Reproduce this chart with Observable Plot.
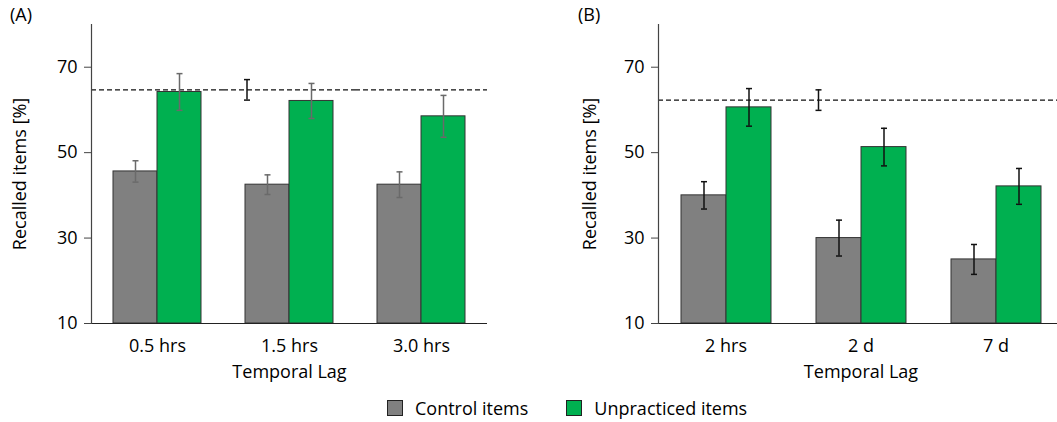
<!DOCTYPE html>
<html>
<head>
<meta charset="utf-8">
<script src="https://cdn.jsdelivr.net/npm/d3@7"></script>
<script src="https://cdn.jsdelivr.net/npm/@observablehq/plot@0.6"></script>
<style>
  body { margin: 0; background: #fff; font-family: "Open Sans", sans-serif; color: #000; }
  #wrap { width: 1057px; height: 422px; overflow: hidden; position: relative; }
  #panels { display: flex; }
  .panel { position: relative; flex: none; }
  .tag { position: absolute; top: 2px; font-size: 18px; }
  #legend { position: absolute; left: 387px; top: 396px; display: flex; align-items: center; font-size: 18px; }
  .item { display: flex; align-items: center; margin-right: 38px; }
  .sw { width: 16px; height: 16px; border: 1px solid #222; margin-right: 12px; box-sizing: border-box; }
</style>
</head>
<body>
<div id="wrap">
  <div id="panels"></div>
  <div id="legend"></div>
</div>
<script>
// Recall by temporal lag: control vs. unpracticed items, with a baseline reference
const seriesNames = ["Control items", "Unpracticed items"];
const seriesColors = ["#808080", "#00b050"];
const yTicks = [10, 30, 50, 70];
const yDomain = [10, 80];

// Panel A
const lagsA = ["0.5 hrs", "1.5 hrs", "3.0 hrs"];
const controlA = [45.6, 42.5, 42.5];
const controlErrA = [2.5, 2.3, 3.0];
const unpracticedA = [64.2, 62.1, 58.5];
const unpracticedErrA = [4.3, 4.1, 4.9];
const baselineA = 64.7;
const baselineErrA = 2.4;

// Panel B
const lagsB = ["2 hrs", "2 d", "7 d"];
const controlB = [40.0, 30.0, 25.0];
const controlErrB = [3.2, 4.2, 3.5];
const unpracticedB = [60.6, 51.3, 42.1];
const unpracticedErrB = [4.4, 4.4, 4.2];
const baselineB = 62.3;
const baselineErrB = 2.4;

// horizontal cap for error bars
const capSymbol = {
  draw(ctx, size) {
    const w = Math.sqrt(size / Math.PI);
    ctx.moveTo(-w, 0);
    ctx.lineTo(w, 0);
  }
};

function rows(lags, control, controlErr, unpracticed, unpracticedErr) {
  const out = [];
  lags.forEach((lag, i) => {
    out.push({lag, series: seriesNames[0], value: control[i], err: controlErr[i]});
    out.push({lag, series: seriesNames[1], value: unpracticed[i], err: unpracticedErr[i]});
  });
  return out;
}

function panel({tag, lags, data, baseline, baselineErr, width, marginLeft, marginRight, errColor, labelOffset, baseDx}) {
  const base = [{lag: lags[1], series: seriesNames[0], value: baseline, err: baselineErr}];
  const lo = d => d.value - d.err;
  const hi = d => d.value + d.err;
  const chart = Plot.plot({
    width,
    height: 395,
    marginTop: 24,
    marginBottom: 72,
    marginLeft,
    marginRight,
    style: {fontFamily: "Open Sans", fontSize: "18px", color: "#000", background: "transparent", overflow: "visible"},
    fx: {domain: lags, padding: 0},
    x: {domain: seriesNames, paddingInner: 0, paddingOuter: 0.5, axis: null},
    y: {domain: yDomain},
    color: {domain: seriesNames, range: seriesColors},
    marks: [
      Plot.barY(data, {fx: "lag", x: "series", y1: () => yDomain[0], y2: "value", fill: "series", stroke: "#333", strokeWidth: 1}),
      Plot.ruleY([baseline], {stroke: "#111", strokeWidth: 1.2, strokeDasharray: "5,3"}),
      Plot.ruleX(data, {fx: "lag", x: "series", y1: lo, y2: hi, stroke: errColor, strokeWidth: 1.5}),
      Plot.dot(data, {fx: "lag", x: "series", y: lo, symbol: capSymbol, r: 3, fill: "none", stroke: errColor, strokeWidth: 1.5}),
      Plot.dot(data, {fx: "lag", x: "series", y: hi, symbol: capSymbol, r: 3, fill: "none", stroke: errColor, strokeWidth: 1.5}),
      Plot.ruleX(base, {fx: "lag", x: "series", y1: lo, y2: hi, dx: baseDx, stroke: "#111", strokeWidth: 1.5}),
      Plot.dot(base, {fx: "lag", x: "series", y: lo, dx: baseDx, symbol: capSymbol, r: 3, fill: "none", stroke: "#111", strokeWidth: 1.5}),
      Plot.dot(base, {fx: "lag", x: "series", y: hi, dx: baseDx, symbol: capSymbol, r: 3, fill: "none", stroke: "#111", strokeWidth: 1.5}),
      Plot.ruleY([yDomain[0]], {stroke: "#222", strokeWidth: 1.2}),
      Plot.frame({anchor: "left", facetAnchor: "left", stroke: "#444", strokeWidth: 1.2}),
      Plot.axisY({ticks: yTicks, tickSize: 7, tickPadding: 7, stroke: "#444", fontSize: 18,
        label: "Recalled items [%]", labelAnchor: "center", labelOffset, labelArrow: "none"}),
      Plot.axisFx({anchor: "bottom", tickSize: 0, tickPadding: 16, fontSize: 18,
        label: "Temporal Lag", labelAnchor: "center", labelOffset: 54, labelArrow: "none"})
    ]
  });
  const div = document.createElement("div");
  div.className = "panel";
  div.style.width = width + "px";
  div.appendChild(chart);
  const t = document.createElement("div");
  t.className = "tag";
  t.textContent = tag;
  div.appendChild(t);
  return div;
}

const panels = document.getElementById("panels");
const pA = panel({
  tag: "(A)", lags: lagsA,
  data: rows(lagsA, controlA, controlErrA, unpracticedA, unpracticedErrA),
  baseline: baselineA, baselineErr: baselineErrA,
  width: 530, marginLeft: 90, marginRight: 42, errColor: "#6a6a6a", labelOffset: 78, baseDx: -20.5
});
pA.querySelector(".tag").style.left = "10px";
panels.appendChild(pA);

const pB = panel({
  tag: "(B)", lags: lagsB,
  data: rows(lagsB, controlB, controlErrB, unpracticedB, unpracticedErrB),
  baseline: baselineB, baselineErr: baselineErrB,
  width: 540, marginLeft: 127, marginRight: 6, errColor: "#111", labelOffset: 75, baseDx: -20.5
});
pB.querySelector(".tag").style.left = "48px";
panels.appendChild(pB);

// legend
const legend = document.getElementById("legend");
seriesNames.forEach((name, i) => {
  const item = document.createElement("div");
  item.className = "item";
  const sw = document.createElement("span");
  sw.className = "sw";
  sw.style.background = seriesColors[i];
  item.appendChild(sw);
  const label = document.createElement("span");
  label.textContent = name;
  item.appendChild(label);
  legend.appendChild(item);
});
</script>
</body>
</html>
